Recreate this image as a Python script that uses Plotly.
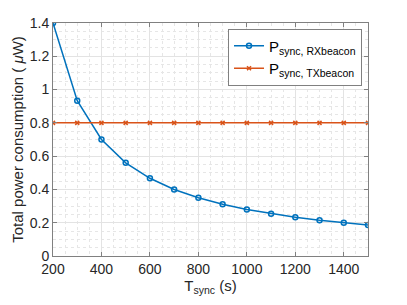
import plotly.graph_objects as go

t_sync = [200, 300, 400, 500, 600, 700, 800, 900, 1000, 1100, 1200, 1300, 1400, 1500]
p_rx = [1.4, 0.933, 0.70, 0.56, 0.467, 0.40, 0.35, 0.311, 0.28, 0.2545, 0.233, 0.215, 0.20, 0.187]
p_tx = [0.8, 0.8, 0.8, 0.8, 0.8, 0.8, 0.8, 0.8, 0.8, 0.8, 0.8, 0.8, 0.8, 0.8]
x_ticks = [200, 400, 600, 800, 1000, 1200, 1400]
y_ticks = [0, 0.2, 0.4, 0.6, 0.8, 1.0, 1.2, 1.4]

blue = "#0072BD"
orange = "#D95319"
font = "Liberation Sans, Arial, sans-serif"

fig = go.Figure()
fig.add_trace(go.Scatter(
    x=t_sync, y=p_rx, mode="lines+markers",
    name="P<sub>sync, RXbeacon</sub>",
    line=dict(color=blue, width=1.5),
    marker=dict(symbol="circle-open", size=5, color=blue, line=dict(width=1.5, color=blue)),
))
fig.add_trace(go.Scatter(
    x=t_sync, y=p_tx, mode="lines+markers",
    name="P<sub>sync, TXbeacon</sub>",
    line=dict(color=orange, width=1.5),
    marker=dict(symbol="x-thin-open", size=4, color=orange, line=dict(width=1.5, color=orange)),
))

axis_common = dict(
    showline=True, linecolor="#808080", linewidth=1, mirror="ticks",
    ticks="inside", ticklen=4, tickcolor="#808080",
    showgrid=True, gridcolor="#e3e3e3", gridwidth=1,
    zeroline=False, automargin=False,
    tickfont=dict(family=font, size=14, color="#262626"),
)

fig.update_xaxes(
    range=[200, 1500], tickvals=x_ticks,
    minor=dict(dtick=50, tick0=200, showgrid=True, gridcolor="#e6e6e6", griddash="dot", ticks=""),
    title=dict(text="T<sub>sync</sub> (s)", font=dict(family=font, size=15, color="#262626"), standoff=2),
    **axis_common,
)
fig.update_yaxes(
    range=[0, 1.4], tickvals=y_ticks, ticktext=["0", "0.2", "0.4", "0.6", "0.8", "1", "1.2", "1.4"],
    minor=dict(dtick=0.05, tick0=0, showgrid=True, gridcolor="#e6e6e6", griddash="dot", ticks=""),
    title=dict(text="Total power consumption ( <i>μ</i>W)", font=dict(family=font, size=15, color="#262626"), standoff=2),
    **axis_common,
)

fig.update_layout(
    width=407, height=305,
    margin=dict(l=45, r=47, t=15, b=57),
    plot_bgcolor="white", paper_bgcolor="white",
    font=dict(family=font, color="#262626"),
    legend=dict(
        x=0.981, y=0.976, xanchor="right", yanchor="top",
        bgcolor="white", bordercolor="#808080", borderwidth=1,
        font=dict(family=font, size=15, color="#000000"),
        tracegroupgap=0, itemwidth=30,
    ),
    showlegend=True,
)

fig.write_html("out.html")
